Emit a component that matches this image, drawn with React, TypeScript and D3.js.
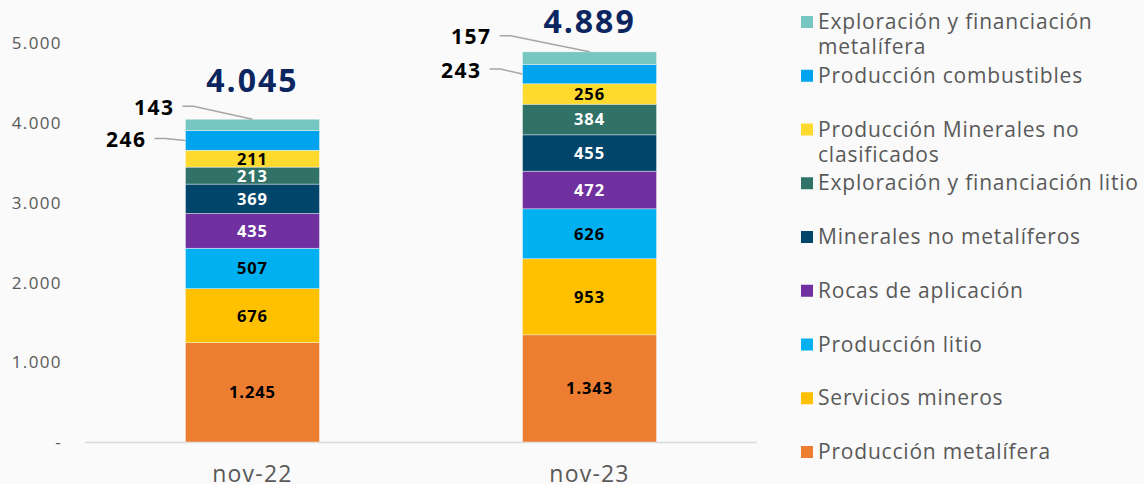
import React, { useEffect } from "react";
import * as d3 from "d3";

const categories = ["nov-22", "nov-23"];
const seriesNames = [
  "Producción metalífera",
  "Servicios mineros",
  "Producción litio",
  "Rocas de aplicación",
  "Minerales no metalíferos",
  "Exploración y financiación litio",
  "Producción Minerales no clasificados",
  "Producción combustibles",
  "Exploración y financiación metalífera",
];
const legendLines = [
  ["Producción metalífera"],
  ["Servicios mineros"],
  ["Producción litio"],
  ["Rocas de aplicación"],
  ["Minerales no metalíferos"],
  ["Exploración y financiación litio"],
  ["Producción Minerales no", "clasificados"],
  ["Producción combustibles"],
  ["Exploración y financiación", "metalífera"],
];
const nov22 = [1245, 676, 507, 435, 369, 213, 211, 246, 143];
const nov23 = [1343, 953, 626, 472, 455, 384, 256, 243, 157];
const yTicks = [0, 1000, 2000, 3000, 4000, 5000];

const colors = ["#ED7D31", "#FFC000", "#00B0F0", "#7030A0", "#01456A", "#317268", "#FFDA2E", "#00A3EE", "#76C6C2"];
const labelColors = ["#000", "#000", "#000", "#fff", "#fff", "#fff", "#000", null, null];

const outside = [
  [
    { s: 8, tx: -78, ty: -12, anchor: "top" },
    { s: 7, tx: -106, ty: -1, anchor: "left" },
  ],
  [
    { s: 8, tx: -98, ty: -15, anchor: "top" },
    { s: 7, tx: -108, ty: -4, anchor: "left" },
  ],
];
const totalDy = [-27, -19];

const FONT = "'Open Sans', 'DejaVu Sans', sans-serif";
const fmt = (v: number) => d3.format(",")(v).replace(/,/g, ".");

export default function App() {
  useEffect(() => {
    document.body.style.margin = "0";
    document.body.style.background = "#FAFAFA";
  }, []);

  const W = 1144, H = 484;
  const y = d3.scaleLinear().domain([0, 5000]).range([442, 43]);
  const x = d3.scaleBand().domain(categories).range([85, 757]).paddingInner(0.6024).paddingOuter(0.298);
  const data = [nov22, nov23];
  const stackInput = categories.map((c, ci) => {
    const o: any = { cat: c };
    seriesNames.forEach((s, si) => (o[s] = data[ci][si]));
    return o;
  });
  const stacked = d3.stack().keys(seriesNames)(stackInput as any);
  const bw = x.bandwidth();

  return (
    <svg width={W} height={H} style={{ display: "block", background: "#FAFAFA" }} fontFamily={FONT}>
      {yTicks.map((t) => (
        <text key={t} x={62} y={y(t)} dy="0.36em" textAnchor="end" fontSize={17} letterSpacing={1.4} fill="#595959">
          {t === 0 ? "-" : fmt(t)}
        </text>
      ))}
      <line x1={85} x2={757} y1={y(0) + 0.5} y2={y(0) + 0.5} stroke="#D9D9D9" strokeWidth={1.5} />
      {stacked.map((layer, si) =>
        layer.map((d: any, ci) => {
          const x0 = x(categories[ci])!;
          return (
            <rect key={si + "-" + ci} x={x0} y={y(d[1])} width={bw} height={y(d[0]) - y(d[1])}
              fill={colors[si]} stroke="#FAFAFA" strokeWidth={0.6} strokeOpacity={0.7} />
          );
        })
      )}
      {stacked.map((layer, si) =>
        labelColors[si]
          ? layer.map((d: any, ci) => (
              <text key={"l" + si + ci} x={x(categories[ci])! + bw / 2} y={(y(d[0]) + y(d[1])) / 2} dy="0.36em"
                textAnchor="middle" fontSize={16.5} letterSpacing={0.9} fontWeight={700} fill={labelColors[si]!}>
                {fmt(data[ci][si])}
              </text>
            ))
          : null
      )}
      {outside.map((list, ci) =>
        list.map((o) => {
          const layer: any = stacked[o.s][ci];
          const cx = x(categories[ci])! + bw / 2;
          const ax = o.anchor === "top" ? cx : x(categories[ci])!;
          const ay = o.anchor === "top" ? y(layer[1]) : (y(layer[0]) + y(layer[1])) / 2;
          const lx = cx + o.tx;
          const ly = ay + o.ty;
          return (
            <g key={"o" + ci + o.s}>
              <polyline points={`${lx + 8},${ly - 1} ${lx + 19},${ly - 1} ${ax},${ay}`} fill="none" stroke="#A6A6A6" strokeWidth={1.5} />
              <text x={lx} y={ly} dy="0.36em" textAnchor="end" fontSize={21} letterSpacing={1.5} fontWeight={700} fill="#000">
                {fmt(data[ci][o.s])}
              </text>
            </g>
          );
        })
      )}
      {categories.map((c, ci) => (
        <text key={"t" + c} x={x(c)! + bw / 2} y={y(d3.sum(data[ci])) + totalDy[ci]} textAnchor="middle"
          fontSize={32} letterSpacing={2} fontWeight={700} fill="#0B2560">
          {fmt(d3.sum(data[ci]))}
        </text>
      ))}
      {categories.map((c) => (
        <text key={"c" + c} x={x(c)! + bw / 2} y={482} textAnchor="middle" fontSize={23} letterSpacing={1.2} fill="#595959">
          {c}
        </text>
      ))}
      {legendLines.map((_, i) => {
        const si = seriesNames.length - 1 - i;
        const cy = 22 + i * 53.75;
        return (
          <g key={"lg" + i}>
            <rect x={801} y={cy - 6} width={12} height={12} fill={colors[si]} />
            {legendLines[si].map((ln, k) => (
              <text key={k} x={818} y={cy + 7 + k * 25} fontSize={21} letterSpacing={0.8} fill="#595959">
                {ln}
              </text>
            ))}
          </g>
        );
      })}
    </svg>
  );
}
